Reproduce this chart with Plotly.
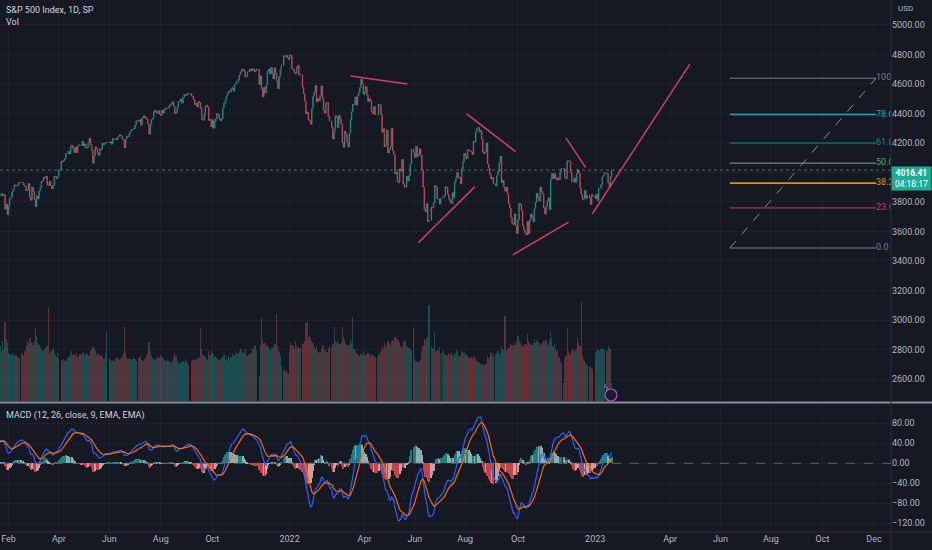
"""S&P 500 daily chart (TradingView dark look): candles + volume overlay, MACD pane,
hand-drawn trend lines and a Fibonacci retracement placed in the future area."""

import pandas as pd
import plotly.graph_objects as go

# ---- data -------------------------------------------------------------------------------
# daily closes; 2020 part only warms up the MACD and sits left of the visible range
close_2020 = [3310, 3370, 3443, 3510, 3509, 3551, 3545, 3572, 3537, 3585, 3627, 3610, 3568, 3582,
              3558, 3578, 3635, 3629, 3638, 3622,
              3662, 3669, 3666, 3699, 3692, 3702, 3673, 3668, 3663, 3647, 3695, 3702, 3722, 3709,
              3695, 3687, 3691, 3703, 3735, 3727, 3732, 3756]
close_2021 = [3701, 3727, 3748, 3804, 3825, 3799, 3801, 3810, 3795, 3768, 3798, 3852, 3853, 3841,
              3855, 3849, 3751, 3787, 3714,
              3774, 3826, 3830, 3872, 3887, 3916, 3911, 3910, 3916, 3934, 3932, 3931, 3914, 3906,
              3876, 3881, 3925, 3829, 3811,
              3901, 3870, 3820, 3768, 3842, 3821, 3875, 3898, 3939, 3943, 3969, 3962, 3974, 3915,
              3913, 3940, 3911, 3889, 3910, 3975, 3971, 3959, 3973,
              4020, 4078, 4073, 4080, 4097, 4129, 4128, 4142, 4125, 4170, 4185, 4163, 4135, 4173,
              4135, 4180, 4188, 4187, 4184, 4211, 4181,
              4192, 4165, 4168, 4202, 4233, 4189, 4152, 4063, 4113, 4174, 4164, 4128, 4116, 4160,
              4156, 4198, 4188, 4196, 4201, 4204,
              4202, 4208, 4192, 4230, 4226, 4227, 4220, 4239, 4247, 4255, 4247, 4224, 4222, 4166,
              4224, 4246, 4242, 4266, 4281, 4291, 4291, 4298,
              4320, 4352, 4344, 4358, 4320, 4370, 4385, 4369, 4375, 4360, 4327, 4259, 4323, 4359,
              4368, 4412, 4422, 4402, 4401, 4419, 4395,
              4387, 4423, 4403, 4429, 4437, 4432, 4436, 4448, 4460, 4468, 4480, 4448, 4400, 4406,
              4442, 4480, 4486, 4497, 4470, 4509, 4529, 4523,
              4524, 4537, 4535, 4520, 4514, 4493, 4459, 4469, 4443, 4481, 4474, 4433, 4358, 4354,
              4396, 4449, 4455, 4443, 4353, 4360, 4308,
              4357, 4300, 4346, 4364, 4399, 4391, 4361, 4351, 4364, 4438, 4471, 4486, 4520, 4537,
              4550, 4545, 4567, 4575, 4551, 4596, 4605,
              4614, 4631, 4660, 4680, 4698, 4702, 4685, 4647, 4650, 4683, 4683, 4701, 4688, 4704,
              4698, 4682, 4691, 4701, 4595, 4655, 4567,
              4513, 4577, 4538, 4592, 4687, 4701, 4668, 4712, 4669, 4634, 4710, 4669, 4621, 4568,
              4650, 4697, 4726, 4791, 4786, 4793, 4778, 4766]
close_2022 = [4797, 4794, 4701, 4696, 4677, 4670, 4713, 4726, 4660, 4663, 4577, 4533, 4483, 4398,
              4410, 4357, 4350, 4326, 4432, 4516,
              4546, 4589, 4477, 4501, 4484, 4522, 4587, 4504, 4419, 4402, 4472, 4475, 4380, 4349,
              4305, 4226, 4288, 4385, 4374,
              4306, 4387, 4364, 4329, 4201, 4171, 4278, 4260, 4204, 4173, 4262, 4358, 4412, 4463,
              4461, 4512, 4456, 4520, 4543, 4575, 4632, 4602, 4530,
              4546, 4583, 4525, 4481, 4500, 4488, 4413, 4397, 4447, 4393, 4392, 4463, 4459, 4394,
              4272, 4297, 4175, 4184, 4288, 4132,
              4155, 4175, 4300, 4147, 4123, 3991, 4001, 3935, 3930, 4024, 4008, 4088, 3924, 3901,
              3901, 3974, 3941, 3979, 4058, 4158, 4132,
              4101, 4177, 4109, 4121, 4161, 4116, 4018, 3901, 3750, 3735, 3790, 3667, 3675, 3765,
              3760, 3796, 3912, 3900, 3821, 3819, 3785,
              3825, 3831, 3845, 3903, 3899, 3855, 3819, 3802, 3790, 3863, 3831, 3937, 3960, 3999,
              3962, 3967, 3921, 4024, 4072, 4130,
              4119, 4091, 4155, 4152, 4145, 4140, 4122, 4210, 4207, 4280, 4297, 4305, 4275, 4284,
              4228, 4138, 4128, 4141, 4200, 4058, 4031, 3986, 3955,
              3967, 3924, 3909, 3980, 4006, 4068, 4110, 3932, 3946, 3901, 3873, 3900, 3856, 3790,
              3758, 3693, 3655, 3647, 3719, 3640, 3586,
              3678, 3791, 3783, 3744, 3640, 3612, 3589, 3577, 3669, 3583, 3677, 3720, 3695, 3666,
              3752, 3797, 3859, 3830, 3807, 3901, 3872,
              3856, 3760, 3720, 3771, 3807, 3828, 3749, 3956, 3993, 3957, 3992, 3959, 3947, 3965,
              3950, 4003, 4027, 4026, 3964, 3958, 4080,
              4077, 4072, 3999, 3941, 3934, 3963, 3934, 3991, 4019, 3996, 3896, 3852, 3818, 3821,
              3879, 3822, 3845, 3829, 3783, 3849, 3840]
close_2023 = [3825, 3853, 3808, 3895, 3893, 3919, 3970, 3983, 3999, 3991, 3929, 3899, 3972, 4016.41]

# volume, millions of shares
vol_2021 = [2750, 2900, 3000, 2800, 2700, 2600, 2500, 2650, 2550, 2600, 2500, 2600, 2750, 2500,
            3000, 2600, 3950, 3100, 2900,
            2400, 2350, 2300, 2350, 2250, 2350, 2250, 2300, 2200, 2150, 2400, 2350, 2250, 2500,
            2750, 3000, 2900, 3100, 3150,
            2900, 2750, 3000, 3650, 3250, 2900, 2800, 2700, 2600, 2500, 2500, 2600, 2700, 2800,
            4700, 2400, 2500, 2450, 2600, 2500, 2300, 2200, 2400,
            2100, 2050, 2000, 2100, 2050, 2000, 2150, 2200, 2250, 2400, 2500, 2300, 2350, 2250,
            2400, 2200, 2250, 2350, 2300, 2450, 2400,
            2250, 2400, 2350, 2300, 2250, 2500, 2600, 2750, 2650, 2500, 2300, 2400, 2350, 2250,
            2300, 2200, 2100, 2150, 2400, 3450,
            2100, 2050, 2000, 2050, 2000, 2100, 2150, 2200, 2100, 2050, 2150, 2250, 2400, 3700,
            2500, 2200, 2100, 2150, 2100, 2050, 2100, 2200,
            2100, 2000, 2150, 2200, 2250, 2050, 2000, 2100, 2150, 2300, 2400, 2950, 2500, 2250,
            2150, 2100, 2050, 2150, 2200, 2100, 2200,
            2300, 2200, 2100, 2050, 2000, 2000, 2050, 2000, 1950, 1900, 2000, 2150, 2400, 2250,
            2000, 1900, 1850, 1950, 1900, 2000, 1900, 2100,
            2000, 1900, 1800, 2000, 2050, 2100, 2000, 2050, 2100, 2150, 2200, 3650, 2600, 2300,
            2250, 2200, 2100, 2050, 2500, 2300, 2500,
            2400, 2350, 2200, 2250, 2150, 2000, 2050, 2100, 2150, 2200, 2300, 2050, 2100, 2000,
            2250, 2100, 2200, 2400, 2300, 2250, 2500,
            2350, 2400, 2500, 2600, 2550, 2450, 2400, 2600, 2300, 2250, 2350, 2300, 2400, 2650,
            2550, 2750, 2800, 2500, 1250, 2800, 4150,
            3100, 2850, 2900, 2750, 2800, 2700, 2600, 2500, 2650, 2750, 2900, 2850, 4350, 2750,
            2500, 2250, 1750, 1500, 1600, 1500, 1400, 1350]
vol_2022 = [2500, 2900, 2800, 2750, 2600, 3000, 2750, 2600, 2700, 2650, 2900, 2850, 3000, 3900,
            4000, 3200, 3300, 3150, 3000, 2900,
            2700, 2600, 2750, 2500, 2400, 2450, 2600, 2800, 2750, 2500, 2600, 2450, 2650, 2750,
            2700, 2850, 3700, 3000, 2900,
            3000, 2900, 2850, 2950, 3700, 3200, 3100, 2900, 2800, 2750, 2850, 3000, 2900, 4200,
            2600, 2500, 2400, 2350, 2300, 2250, 2350, 2300, 2500,
            2300, 2250, 2350, 2400, 2300, 2200, 2350, 2300, 2250, 2200, 2150, 2350, 2300, 2500,
            2750, 2600, 2900, 2700, 2800, 3000,
            2900, 2800, 3000, 3100, 3000, 3200, 3150, 3100, 3050, 2900, 2750, 2700, 3000, 2950,
            3100, 2750, 2700, 2650, 2600, 2500, 3650,
            2100, 2000, 1950, 1900, 2000, 2050, 2400, 2750, 3100, 3000, 3150, 3200, 4800, 2750,
            2600, 2650, 3450, 2500, 2600, 2500, 2700,
            2400, 2500, 2350, 2300, 2250, 2300, 2400, 2350, 2450, 2300, 2200, 2400, 2350, 2500,
            2250, 2200, 2300, 2500, 2450, 2400,
            2300, 2350, 2250, 2200, 2150, 2200, 2100, 2250, 2200, 2150, 2000, 1950, 1900, 1850,
            1800, 1850, 1800, 1900, 1850, 2250, 2100, 2200, 2400,
            2400, 2250, 2350, 2400, 2500, 2300, 2400, 2750, 2600, 2550, 4250, 2500, 2600, 2700,
            2650, 2850, 2800, 2750, 2900, 2800, 3000,
            3250, 3000, 2900, 2750, 2800, 2700, 2850, 2800, 3350, 3000, 2900, 2850, 2800, 2900,
            3100, 2900, 3000, 3100, 2900, 2800, 2850,
            2900, 3000, 2950, 3050, 2800, 2900, 3000, 3450, 3150, 2750, 2900, 2600, 2500, 2550,
            2200, 2000, 1900, 900, 2100, 2250, 3650,
            2500, 2300, 2400, 2500, 2600, 2450, 2550, 2600, 3150, 2900, 2750, 4950, 2250, 2100,
            2000, 1900, 1800, 1700, 1750, 1650, 1600]
vol_2023 = [2400, 2500, 2600, 2550, 2500, 2600, 2650, 2550, 2600, 2500, 2750, 2650, 2600, 900]

HOLIDAYS = ["2020-11-26", "2020-12-25",
            "2021-01-01", "2021-01-18", "2021-02-15", "2021-04-02", "2021-05-31", "2021-07-05",
            "2021-09-06", "2021-11-25", "2021-12-24",
            "2022-01-17", "2022-02-21", "2022-04-15", "2022-05-30", "2022-06-20", "2022-07-04",
            "2022-09-05", "2022-11-24", "2022-12-26",
            "2023-01-02", "2023-01-16"]

# tick labels along the time axis (first session of the month)
month_ticks = ["2021-02-01", "2021-04-01", "2021-06-01", "2021-08-02", "2021-10-01",
               "2022-01-03", "2022-04-01", "2022-06-01", "2022-08-01", "2022-10-03",
               "2023-01-03", "2023-04-03", "2023-06-01", "2023-08-01", "2023-10-02",
               "2023-12-01"]
month_text = ["Feb", "Apr", "Jun", "Aug", "Oct", "2022", "Apr", "Jun", "Aug", "Oct",
              "2023", "Apr", "Jun", "Aug", "Oct", "Dec"]

# price scale: the 4000 label sits under the last-price tag, so only its grid line shows
price_ticks = [2600, 2800, 3000, 3200, 3400, 3600, 3800, 4000, 4200, 4400, 4600, 4800, 5000]
price_text = ["2600.00", "2800.00", "3000.00", "3200.00", "3400.00", "3600.00", "3800.00", "",
              "4200.00", "4400.00", "4600.00", "4800.00", "5000.00"]
macd_ticks = [-120, -80, -40, 0, 40, 80]

# drawings: trend lines (date, price, date, price) and the fib anchors
trend_lines = [
    ("2022-03-16", 4654, "2022-05-23 12:00", 4600),
    ("2022-06-03 21:00", 3524, "2022-08-11 07:00", 3904),
    ("2022-08-02 05:00", 4397, "2022-09-29 02:00", 4141),
    ("2022-09-26 12:00", 3441, "2022-12-01 07:00", 3664),
    ("2022-11-29", 4234, "2022-12-21 22:00", 4033),
    ("2022-12-29 12:00", 3719, "2023-04-25 22:00", 4736),
]
fib_start, fib_end = "2023-06-13", "2023-12-04 19:00"
fib_low, fib_high = 3488, 4639
fib_ratios = [1.0, 0.786, 0.618, 0.5, 0.382, 0.236, 0.0]
fib_labels = ["100.0", "78.6", "61.8", "50.0", "38.2", "23.6", "0.0"]
fib_colors = ["#787b86", "#1fa9c2", "#17877d", "#8e9a8f", "#d9911c", "#c23b5b", "#787b86"]
fib_label_colors = ["#787b86", "#1fa9c2", "#17877d", "#4caf50", "#d9911c", "#c23b5b", "#787b86"]
fib_widths = [1, 1.6, 1, 1, 1.6, 1, 1]

last_price, countdown = 4016.41, "04:18:17"

# ---- look -------------------------------------------------------------------------------
BG = "#151924"
GRID = "#1d212c"
TEXT = "#b2b5be"
UP, DOWN = "#26a69a", "#ef5350"
TREND = "#d83c64"
FONT = "Roboto"

W, H = 932, 550
PLOT_W, PLOT_H = 891, 532          # plot area in px (right price scale, bottom time scale)
MAIN_BOTTOM, MACD_TOP = 401, 405   # px from top


def sessions(start, end):
    days = pd.bdate_range(start, end)
    return days[~days.isin(pd.to_datetime(HOLIDAYS))]


def py(px):
    """px from the top of the plot area -> paper y."""
    return 1 - px / PLOT_H


def px_x(px):
    return px / PLOT_W


dates = sessions("2020-11-01", "2020-12-31").append(sessions("2021-01-01", "2021-12-31")) \
    .append(sessions("2022-01-01", "2022-12-31")).append(sessions("2023-01-01", "2023-01-23"))
close = close_2020 + close_2021 + close_2022 + close_2023
if len(dates) != len(close):
    raise SystemExit(f"{len(dates)} sessions but {len(close)} closes")
opens = [close[0]] + close[:-1]

vdates = dates[len(close_2020):]
vol = vol_2021 + vol_2022 + vol_2023
if len(vdates) != len(vol):
    raise SystemExit(f"{len(vdates)} sessions but {len(vol)} volumes")
vcolors = ["rgba(38,166,154,0.36)" if c >= o else "rgba(239,83,80,0.36)"
           for o, c in zip(opens[len(close_2020):], close[len(close_2020):])]

s = pd.Series(close, index=dates, dtype=float)
macd = s.ewm(span=12, adjust=False).mean() - s.ewm(span=26, adjust=False).mean()
signal = macd.ewm(span=9, adjust=False).mean()
hist = macd - signal
hcolors = []
prev = 0.0
for h in hist:
    if h >= 0:
        hcolors.append("#26a69a" if h > prev else "#b2dfdb")
    else:
        hcolors.append("#ff5252" if h < prev else "#ffcdd2")
    prev = h

fig = go.Figure()
fig.add_trace(go.Bar(x=vdates, y=vol, marker=dict(color=vcolors, line=dict(width=0)),
                     xaxis="x", yaxis="y3", hoverinfo="skip"))
fig.add_trace(go.Candlestick(
    x=dates, open=opens, high=[max(o, c) for o, c in zip(opens, close)],
    low=[min(o, c) for o, c in zip(opens, close)], close=close,
    increasing=dict(line=dict(color=UP, width=0.6), fillcolor=UP),
    decreasing=dict(line=dict(color=DOWN, width=0.6), fillcolor=DOWN),
    whiskerwidth=0, opacity=0.9, xaxis="x", yaxis="y"))
fig.add_trace(go.Bar(x=dates, y=hist, marker=dict(color=hcolors, line=dict(width=0)),
                     opacity=0.75, xaxis="x2", yaxis="y2", hoverinfo="skip"))
fig.add_trace(go.Scatter(x=dates, y=macd, mode="lines", line=dict(color="#2962ff", width=1.2),
                         xaxis="x2", yaxis="y2"))
fig.add_trace(go.Scatter(x=dates, y=signal, mode="lines", line=dict(color="#ff6d00", width=1.2),
                         xaxis="x2", yaxis="y2"))

# fib level labels as text marks, so the plot edge clips them like the original
levels = [fib_low + r * (fib_high - fib_low) for r in fib_ratios]
fig.add_trace(go.Scatter(x=[fib_end] * len(levels), y=levels, mode="text", text=fib_labels,
                         textposition="middle right", cliponaxis=True,
                         textfont=dict(family=FONT, size=9, color=fib_label_colors),
                         xaxis="x", yaxis="y"))

x_range = ["2021-01-20 17:00", "2023-12-21 14:00"]
breaks = [dict(bounds=["sat", "mon"])]
main_dom = [py(MAIN_BOTTOM), 1]
macd_dom = [0, py(MACD_TOP)]
ax_common = dict(showgrid=True, gridcolor=GRID, gridwidth=1, zeroline=False, showline=False,
                 ticks="", tickfont=dict(family=FONT, size=9, color=TEXT))

fig.update_layout(
    width=W, height=H, margin=dict(l=0, r=W - PLOT_W, t=0, b=H - PLOT_H),
    paper_bgcolor=BG, plot_bgcolor=BG, showlegend=False, bargap=0,
    font=dict(family=FONT, size=9, color=TEXT), hovermode=False,
    xaxis=dict(domain=[0, 1], anchor="y", range=x_range, rangebreaks=breaks,
               tickvals=month_ticks, showticklabels=False,
               rangeslider=dict(visible=False), **ax_common),
    xaxis2=dict(domain=[0, 1], anchor="y2", matches="x", rangebreaks=breaks,
                tickvals=month_ticks, ticktext=month_text, **ax_common),
    yaxis=dict(domain=main_dom, anchor="x", side="right", range=[2451, 5169],
               tickvals=price_ticks, ticktext=price_text, **ax_common),
    yaxis3=dict(domain=main_dom, anchor="x", overlaying="y", range=[0, 20050], visible=False),
    yaxis2=dict(domain=macd_dom, anchor="x2", side="right", range=[-137.6, 116.7],
                tickvals=macd_ticks, tickformat=".2f", **ax_common),
)

# pane furniture
fig.add_shape(type="line", xref="paper", yref="paper", x0=0, x1=W / PLOT_W,
              y0=py(402.5), y1=py(402.5), line=dict(color="#8a8e99", width=2))
fig.add_shape(type="line", xref="paper", yref="paper", x0=0, x1=W / PLOT_W, y0=0, y1=0,
              line=dict(color="#2a2e39", width=1))
fig.add_shape(type="line", xref="paper", yref="paper", x0=1, x1=1, y0=-18 / PLOT_H, y1=1,
              line=dict(color="#2a2e39", width=1))
fig.add_shape(type="line", xref="paper", yref="y2", x0=0, x1=1, y0=0, y1=0,
              line=dict(color="#5d606b", width=1, dash="dash"))
fig.add_shape(type="line", xref="paper", yref="y", x0=0, x1=1, y0=last_price, y1=last_price,
              line=dict(color="rgba(110,160,155,0.6)", width=1, dash="dot"))

# drawings
for x0, y0, x1, y1 in trend_lines:
    fig.add_shape(type="line", xref="x", yref="y", x0=x0, y0=y0, x1=x1, y1=y1,
                  line=dict(color=TREND, width=1.5))

for lvl, col, w in zip(levels, fib_colors, fib_widths):
    fig.add_shape(type="line", xref="x", yref="y", x0=fib_start, x1=fib_end, y0=lvl, y1=lvl,
                  line=dict(color=col, width=w))
fig.add_shape(type="line", xref="x", yref="y", x0=fib_start, y0=fib_low, x1=fib_end, y1=fib_high,
              line=dict(color="#8a8d96", width=1, dash="dash"))

# texts
fig.add_annotation(xref="paper", yref="paper", x=px_x(4), y=py(10), text="S&P 500 Index, 1D, SP",
                   showarrow=False, xanchor="left", yanchor="middle",
                   font=dict(family=FONT, size=9, color="#d1d4dc"))
fig.add_annotation(xref="paper", yref="paper", x=px_x(4), y=py(22), text="Vol",
                   showarrow=False, xanchor="left", yanchor="middle",
                   font=dict(family=FONT, size=9, color="#d1d4dc"))
fig.add_annotation(xref="paper", yref="paper", x=px_x(4), y=py(415),
                   text="MACD (12, 26, close, 9, EMA, EMA)", showarrow=False,
                   xanchor="left", yanchor="middle", font=dict(family=FONT, size=9, color="#d1d4dc"))
fig.add_annotation(xref="paper", yref="paper", x=px_x(896), y=py(8), text="USD", showarrow=False,
                   xanchor="left", yanchor="middle", font=dict(family=FONT, size=8, color=TEXT))
fig.add_annotation(xref="paper", yref="y", x=px_x(891), y=4044,
                   text=f"<b>{last_price:.2f}</b><br>{countdown}", showarrow=False,
                   xanchor="left", yanchor="top", align="center", bgcolor="#22ab94",
                   width=37, borderpad=1, font=dict(family=FONT, size=8.5, color="#ffffff"))

# the little lightning badge at the end of the volume bars
fig.add_shape(type="circle", xref="paper", yref="paper", x0=px_x(605), x1=px_x(617),
              y0=py(401), y1=py(389), line=dict(color="#a855c8", width=1.2), fillcolor="#1c1a2c")
fig.add_annotation(xref="paper", yref="paper", x=px_x(611), y=py(395), text="ϟ", showarrow=False,
                   font=dict(family="DejaVu Sans", size=9, color="#b06ad6"))

# no modebar, and no 8px body margin round the figure
fig.write_html("out.html", config={"displayModeBar": False},
               post_script="document.body.style.margin='0px';")
